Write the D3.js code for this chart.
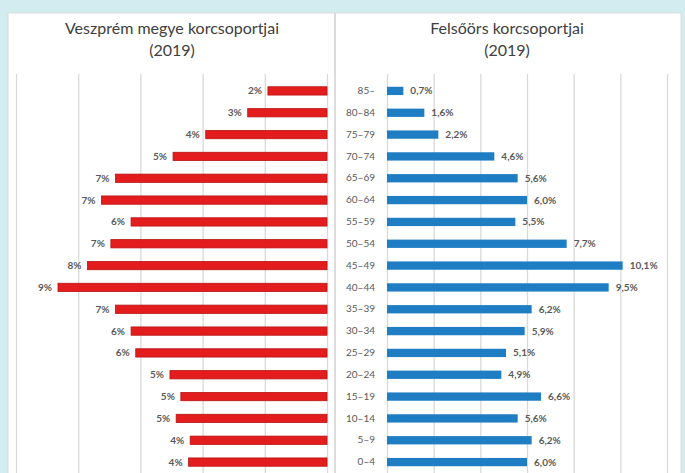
<!DOCTYPE html>
<html>
<head>
<meta charset="utf-8">
<script src="https://cdn.jsdelivr.net/npm/d3@7"></script>
<style>
  html, body { margin: 0; padding: 0; background: #d3ecf0; }
  svg { display: block; }
</style>
</head>
<body>
<div id="chart"></div>
<script>
// age groups, top to bottom
var ageGroups = ['85–', '80–84', '75–79', '70–74', '65–69', '60–64', '55–59', '50–54',
  '45–49', '40–44', '35–39', '30–34', '25–29', '20–24', '15–19', '10–14', '5–9', '0–4'];
// Veszprém county share (%), labels are rounded
var countyValues = [1.9, 2.55, 3.9, 4.95, 6.8, 7.25, 6.3, 6.95, 7.7, 8.65, 6.8, 6.3, 6.15, 5.05, 4.7, 4.85, 4.4, 4.45];
// Felsőörs share (%)
var villageValues = [0.7, 1.6, 2.2, 4.6, 5.6, 6.0, 5.5, 7.7, 10.1, 9.5, 6.2, 5.9, 5.1, 4.9, 6.6, 5.6, 6.2, 6.0];
var countyTitle = ['Veszprém megye korcsoportjai', '(2019)'];
var villageTitle = ['Felsőörs korcsoportjai', '(2019)'];

var w = 685, h = 473;
var font = 'Lato, "Open Sans", sans-serif';

var svg = d3.select('#chart').append('svg')
  .attr('width', w)
  .attr('height', h);

svg.append('rect').attr('width', w).attr('height', h).attr('fill', '#d3ecf0');
svg.append('rect')
  .attr('x', 8).attr('y', 13)
  .attr('width', 673).attr('height', h)
  .attr('fill', '#ffffff')
  .attr('stroke', '#dcdcdc');

// divider between the two panels
svg.append('line')
  .attr('x1', 335).attr('x2', 335)
  .attr('y1', 13).attr('y2', h)
  .attr('stroke', '#cfcfcf').attr('stroke-width', 1.5);

var gridTop = 74;
var y = d3.scaleBand().domain(ageGroups).range([80, 473])
  .paddingInner(0.62).paddingOuter(0.31);
var xL = d3.scaleLinear().domain([0, 10]).range([327, 16]);
var xR = d3.scaleLinear().domain([0, 12]).range([387, 667]);

function grid(scale, n) {
  var g = svg.append('g')
    .attr('transform', 'translate(0,' + gridTop + ')')
    .call(d3.axisBottom(scale).ticks(n).tickSize(h - gridTop).tickFormat(''));
  g.select('.domain').remove();
  g.selectAll('.tick line').attr('stroke', '#d9d9d9').attr('stroke-width', 1.3);
}
grid(xL, 5);
grid(xR, 6);

// titles
function title(lines, cx) {
  svg.append('g').selectAll('text')
    .data(lines)
    .join('text')
    .attr('x', cx)
    .attr('y', (d, i) => 34 + i * 22)
    .attr('text-anchor', 'middle')
    .attr('font-family', font)
    .attr('font-size', 16)
    .attr('fill', '#404040')
    .text(d => d);
}
title(countyTitle, 172);
title(villageTitle, 507);

var county = ageGroups.map((a, i) => ({ age: a, v: countyValues[i] }));
var village = ageGroups.map((a, i) => ({ age: a, v: villageValues[i] }));

// left bars (red, growing to the left)
svg.append('g').selectAll('rect')
  .data(county)
  .join('rect')
  .attr('x', d => xL(d.v))
  .attr('y', d => y(d.age))
  .attr('width', d => xL(0) - xL(d.v))
  .attr('height', y.bandwidth())
  .attr('fill', '#e31d1d')
  .attr('stroke', '#b81414')
  .attr('stroke-width', 0.8);

var fmtInt = d3.format('.0f');
svg.append('g').selectAll('text')
  .data(county)
  .join('text')
  .attr('x', d => xL(d.v) - 6)
  .attr('y', d => y(d.age) + y.bandwidth() / 2)
  .attr('dy', '0.35em')
  .attr('text-anchor', 'end')
  .attr('font-family', font)
  .attr('font-size', 10)
  .attr('font-weight', 'bold')
  .attr('fill', '#5a5a5a')
  .text(d => fmtInt(d.v) + '%');

// right bars (blue)
svg.append('g').selectAll('rect')
  .data(village)
  .join('rect')
  .attr('x', xR(0))
  .attr('y', d => y(d.age))
  .attr('width', d => xR(d.v) - xR(0))
  .attr('height', y.bandwidth())
  .attr('fill', '#1f7dc3');

var huLocale = d3.formatLocale({ decimal: ',', thousands: ' ', grouping: [3], currency: ['', ' Ft'] });
var fmtDec = huLocale.format('.1f');
svg.append('g').selectAll('text')
  .data(village)
  .join('text')
  .attr('x', d => xR(d.v) + 7)
  .attr('y', d => y(d.age) + y.bandwidth() / 2)
  .attr('dy', '0.35em')
  .attr('font-family', font)
  .attr('font-size', 10)
  .attr('font-weight', 'bold')
  .attr('fill', '#5a5a5a')
  .text(d => fmtDec(d.v) + '%');

// age group labels
var ageAxis = svg.append('g')
  .attr('transform', 'translate(375,0)')
  .call(d3.axisLeft(y).tickSize(0).tickPadding(0));
ageAxis.select('.domain').remove();
ageAxis.selectAll('text')
  .attr('font-family', font)
  .attr('font-size', 10)
  .attr('fill', '#5a5a5a');
</script>
</body>
</html>
